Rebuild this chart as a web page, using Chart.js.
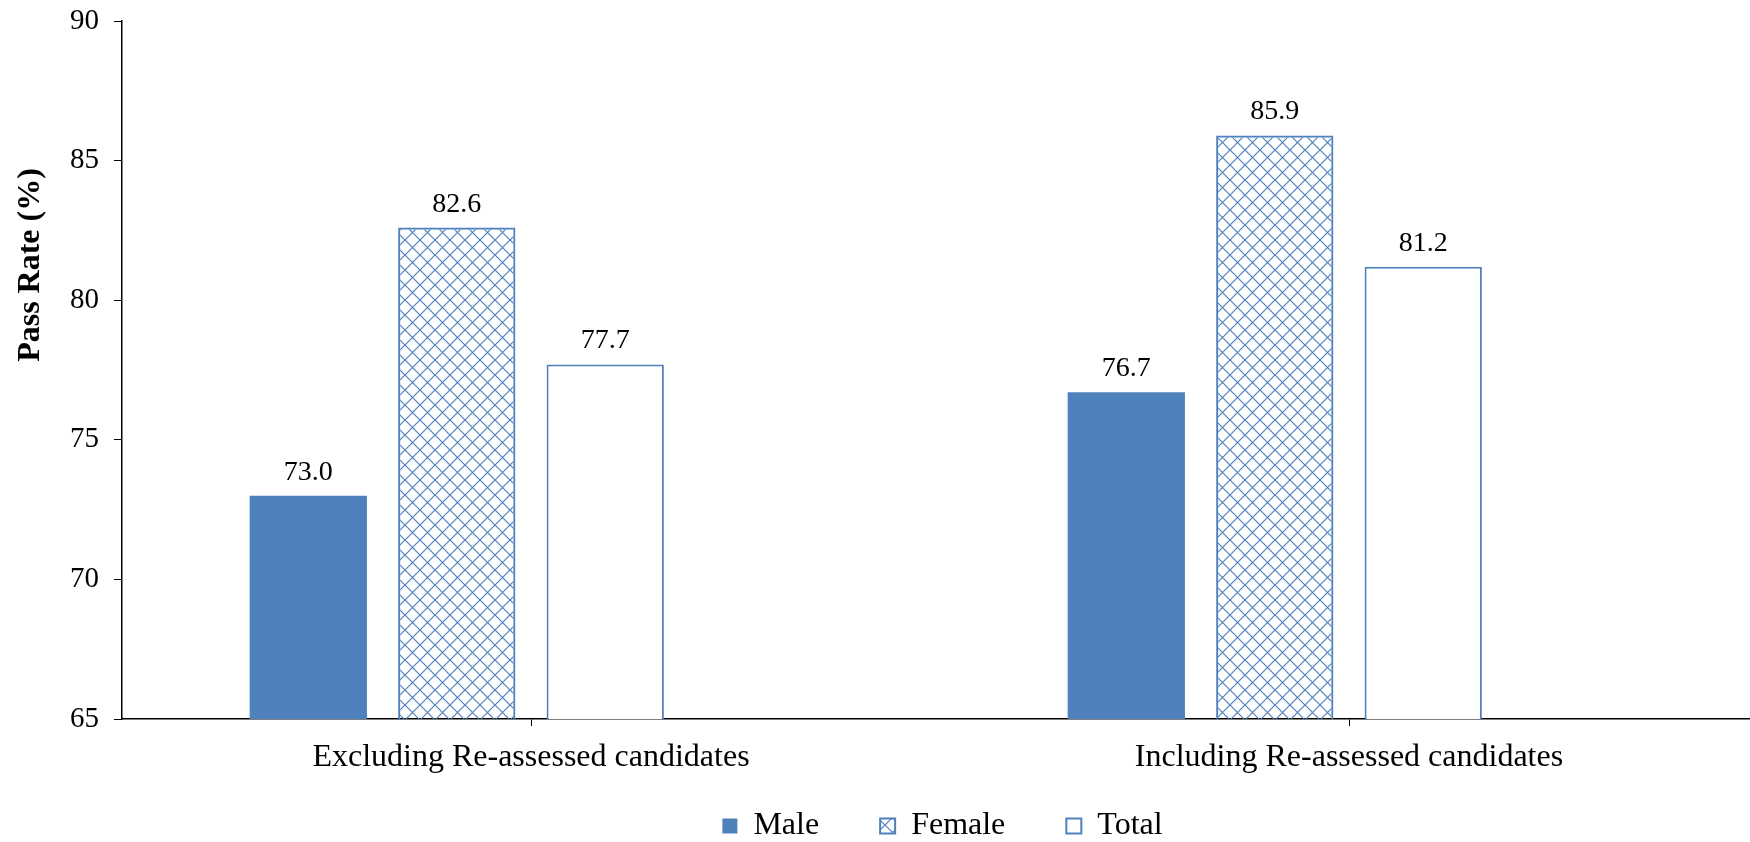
<!DOCTYPE html>
<html>
<head>
<meta charset="utf-8">
<script src="https://cdn.jsdelivr.net/npm/chart.js@4/dist/chart.umd.min.js"></script>
<style>
  html, body { margin: 0; padding: 0; background: #fff; overflow: hidden; }
  /* the original plot runs a few pixels past the right edge of the picture */
  #wrap { width: 1758px; height: 842px; position: relative; }
</style>
</head>
<body>
<div id="wrap"><canvas id="passRateChart"></canvas></div>
<script>
// Pass rate data
var categories = ['Excluding Re-assessed candidates', 'Including Re-assessed candidates'];
var maleRates = [73.0, 76.7];
var femaleRates = [82.6, 85.9];
var totalRates = [77.7, 81.2];
var seriesNames = ['Male', 'Female', 'Total'];
var yMin = 65, yMax = 90, yStep = 5;

var blue = '#4F81BD';
var serif = '"Liberation Serif", "Times New Roman", serif';

var ctx = document.getElementById('passRateChart').getContext('2d');

// diamond hatch used by the Female bars
function diamondPattern() {
    var size = 15;
    var c = document.createElement('canvas');
    c.width = size; c.height = size;
    var g = c.getContext('2d');
    g.strokeStyle = blue;
    g.lineWidth = 1.2;
    g.beginPath();
    g.moveTo(-1, -1); g.lineTo(size + 1, size + 1);
    g.moveTo(size + 1, -1); g.lineTo(-1, size + 1);
    g.stroke();
    return ctx.createPattern(c, 'repeat');
}

// values above the bars
var valueLabels = {
    id: 'valueLabels',
    afterDatasetsDraw: function (chart) {
        var c = chart.ctx;
        c.save();
        c.font = '28px ' + serif;
        c.fillStyle = '#000';
        c.textAlign = 'center';
        c.textBaseline = 'alphabetic';
        chart.data.datasets.forEach(function (ds, i) {
            var meta = chart.getDatasetMeta(i);
            meta.data.forEach(function (bar, j) {
                var v = ds.data[j];
                if (v == null) return;
                c.fillText(v.toFixed(1), bar.x, bar.y - 16);
            });
        });
        c.restore();
    }
};

// y axis title sits above the middle of the axis, like the original
var yTitle = {
    id: 'yTitle',
    afterDraw: function (chart) {
        var c = chart.ctx;
        c.save();
        c.translate(31, 265);
        c.rotate(-Math.PI / 2);
        c.font = 'bold 32px ' + serif;
        c.fillStyle = '#000';
        c.textAlign = 'center';
        c.textBaseline = 'middle';
        c.fillText('Pass Rate (%)', 0, 0);
        c.restore();
    }
};

// legend sits a bit right of centre; x labels may run into the legend band
var layoutTweaks = {
    id: 'layoutTweaks',
    afterLayout: function (chart) {
        chart.legend.left += 57;
        chart.legend.right += 57;
        chart.scales.x.bottom += 50;
    }
};

var data = {
    labels: categories,
    datasets: [{
        label: seriesNames[0],
        data: maleRates,
        backgroundColor: blue,
        borderColor: blue,
        borderWidth: 0
    }, {
        label: seriesNames[1],
        data: femaleRates,
        backgroundColor: diamondPattern(),
        borderColor: blue,
        borderWidth: 2
    }, {
        label: seriesNames[2],
        data: totalRates,
        backgroundColor: '#fff',
        borderColor: blue,
        borderWidth: 2
    }, {
        // empty fourth series keeps the bars left of the category centre
        label: '',
        data: [null, null],
        backgroundColor: 'rgba(0,0,0,0)'
    }]
};

var options = {
    responsive: true,
    maintainAspectRatio: false,
    animation: false,
    categoryPercentage: 0.726,
    barPercentage: 0.79,
    layout: {
        padding: { top: 21, left: 13, right: 0, bottom: -10 }
    },
    scales: {
        x: {
            offset: true,
            grid: {
                offset: false,
                drawOnChartArea: false,
                drawTicks: true,
                tickLength: 7,
                color: '#000'
            },
            border: { display: true, color: '#000', width: 1.5 },
            ticks: {
                color: '#000',
                padding: 12,
                font: { family: serif, size: 32 }
            },
            afterFit: function (scale) { scale.height = 30; }
        },
        y: {
            min: yMin,
            max: yMax,
            grid: {
                drawOnChartArea: false,
                drawTicks: true,
                tickLength: 8,
                color: '#000'
            },
            border: { display: true, color: '#000', width: 1.5 },
            ticks: {
                stepSize: yStep,
                color: '#000',
                padding: 15,
                font: { family: serif, size: 29 }
            },
            afterFit: function (scale) {
                scale.width = 109;
                scale.paddingTop = 0;
                scale.paddingBottom = 0;
            }
        }
    },
    plugins: {
        legend: {
            position: 'bottom',
            labels: {
                color: '#000',
                font: { family: serif, size: 32 },
                boxWidth: 15,
                boxHeight: 15,
                padding: 61,
                filter: function (item) { return item.text !== ''; }
            }
        },
        tooltip: { enabled: false }
    }
};

var passRateChart = new Chart(ctx, {
    type: 'bar',
    data: data,
    options: options,
    plugins: [valueLabels, yTitle, layoutTweaks]
});
</script>
</body>
</html>
